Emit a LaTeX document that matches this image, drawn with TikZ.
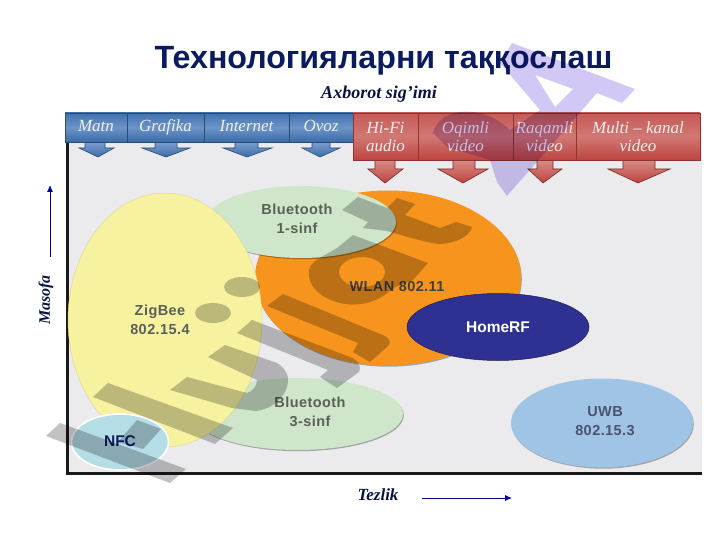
\documentclass[tikz,border=0pt]{standalone}
\usepackage{fontspec}
\setmainfont{Liberation Serif}
\setsansfont{Liberation Sans}
\newfontfamily\zonefont[LetterSpace=3]{Liberation Sans}
\usetikzlibrary{shapes.geometric,shadows,arrows.meta}
\definecolor{plotbg}{HTML}{EBEBEE}
\definecolor{titleblue}{HTML}{0B1B60}
\definecolor{bluetop}{HTML}{3F72B0}
\definecolor{bluemid}{HTML}{7C9FCE}
\definecolor{bluebot}{HTML}{3B6BA9}
\definecolor{redtop}{HTML}{C65A57}
\definecolor{redmid}{HTML}{D98B86}
\definecolor{redbot}{HTML}{BE4440}
\definecolor{zigfill}{HTML}{F8F39E}
\definecolor{btfill}{HTML}{CFE6CA}
\definecolor{wlanfill}{HTML}{F7941D}
\definecolor{homefill}{HTML}{2E3192}
\definecolor{uwbfill}{HTML}{9FC4E6}
\definecolor{nfcfill}{HTML}{B5DDE6}
\definecolor{labelgray}{HTML}{5A6058}
\definecolor{wmgray}{HTML}{C2C2C4}
\definecolor{wmpurple}{HTML}{D2C8F6}
\tikzset{
  x=1pt,y=-1pt,
  cellbase/.style={rectangle,inner sep=0pt,minimum height=#1,align=center,
    font=\fontsize{17}{18}\selectfont\itshape,text=white!88!gray},
  bluecell/.style={cellbase=29,text height=11,text depth=3,top color=bluetop,bottom color=bluebot,middle color=bluemid!75!bluetop,draw=bluebot!70!black,line width=.7pt},
  redcell/.style={cellbase=47,top color=redtop,bottom color=redbot,middle color=redmid!60!redtop,draw=redbot!75!black,line width=.7pt},
  bluearrow/.style={top color=bluemid,bottom color=bluebot,draw=bluebot!70!black,line width=.6pt},
  redarrow/.style={top color=redmid,bottom color=redbot,draw=redbot!60!black,line width=.6pt},
  zone/.style={ellipse,inner sep=0pt,align=center},
  softshadow/.style={drop shadow={shadow xshift=.8pt,shadow yshift=-1.2pt,opacity=.3,fill=black}},
  zonetext/.style={font=\zonefont\bfseries\fontsize{14.5}{19.5}\selectfont,text=labelgray},
  axislabel/.style={font=\bfseries\itshape,text=titleblue!70!black},
  axisarrow/.style={-{Latex[length=7pt,width=6pt]},draw=blue!60!black,fill=blue!70!black,line width=.9pt},
  axisline/.style={line width=3pt,draw=black!90},
  wmg/.style={fill=wmgray},
  wmp/.style={fill=wmpurple,even odd rule}
}
\begin{document}
\begin{tikzpicture}
\useasboundingbox (0,0) rectangle (720,540);
% plot background
\fill[plotbg] (67,125) rectangle (702,472);
% axes
\coordinate (origin) at (67,473);
\coordinate (ytop) at (67,112);
\coordinate (xend) at (702,473);
\draw[axisline] (ytop) -- (origin) -- (xend);
% title
\node[font=\sffamily\bfseries\fontsize{32.2}{35}\selectfont,text=titleblue] (title) at (383.5,61) {Технологияларни таққослаш};
\node[axislabel,font=\bfseries\itshape\fontsize{18}{20}\selectfont] (capacity) at (379,94) {Axborot sig'imi};
% arrows under header (blue)
\path[bluearrow] (85,142) -- (105,142) -- (105,148) -- (114,148) -- (98,157) -- (79,148) -- (85,148) -- cycle;
\path[bluearrow] (155,142) -- (177,142) -- (177,148) -- (190,148) -- (166,157) -- (142,148) -- (155,148) -- cycle;
\path[bluearrow] (235,142) -- (258,142) -- (258,148) -- (272,148) -- (247,157) -- (223,148) -- (235,148) -- cycle;
\path[bluearrow] (312,142) -- (330,142) -- (330,148) -- (340,148) -- (320,157) -- (302,148) -- (312,148) -- cycle;
% arrows under header (red)
\path[redarrow] (375,160) -- (395,160) -- (395,169) -- (403,169) -- (385,183) -- (368,169) -- (375,169) -- cycle;
\path[redarrow] (453,160) -- (475,160) -- (475,169) -- (488,169) -- (463,183) -- (438,169) -- (453,169) -- cycle;
\path[redarrow] (537,160) -- (553,160) -- (553,169) -- (562,169) -- (543,183) -- (528,169) -- (537,169) -- cycle;
\path[redarrow] (623,160) -- (655,160) -- (655,169) -- (670,169) -- (638,183) -- (608,169) -- (623,169) -- cycle;
% header cells
\node[bluecell,minimum width=62] (matn) at (96,127.5) {Matn};
\node[bluecell,minimum width=77] (grafika) at (165.5,127.5) {Grafika};
\node[bluecell,minimum width=85] (internet) at (246.5,127.5) {Internet};
\node[bluecell,minimum width=64] (ovoz) at (321,127.5) {Ovoz};
\node[redcell,minimum width=65] (hifi) at (385.5,136.5) {Hi-Fi\\audio};
\node[redcell,minimum width=95] (oqimli) at (465.5,136.5) {Oqimli\\video};
\node[redcell,minimum width=63] (raqamli) at (544.5,136.5) {Raqamli\\video};
\node[redcell,minimum width=124] (multi) at (638,136.5) {Multi – kanal\\video};
% zones
\node[zone,fill=wlanfill,softshadow,minimum width=266,minimum height=175] (wlan) at (388,278) {};
\node[zone,fill=btfill,softshadow,minimum width=190,minimum height=72] (bta) at (301,222) {};
\node[zone,fill=btfill,softshadow,minimum width=210,minimum height=72] (btc) at (298,414) {};
\node[zone,fill=zigfill,fill opacity=.97,draw=gray!25!zigfill,line width=.4pt,minimum width=194,minimum height=254] (zig) at (165,320) {};
\node[zone,fill=homefill,draw=homefill!60!black,line width=.5pt,minimum width=182,minimum height=67] (home) at (498,327) {};
\node[zone,fill=uwbfill,softshadow,minimum width=182,minimum height=89] (uwb) at (602,423) {};
\node[zone,fill=nfcfill,draw=white,line width=1.6pt,minimum width=97,minimum height=56] (nfc) at (120,442) {};
% zone labels
\node[zonetext,align=center] (btatext) at (297,219) {Bluetooth\\1-sinf};
\node[zonetext,align=center] (zigtext) at (160,320) {ZigBee\\802.15.4};
\node[zonetext,text=black!75] (wlantext) at (397,287) {WLAN 802.11};
\node[zonetext,align=center] (btctext) at (310,412) {Bluetooth\\3-sinf};
\node[zonetext,align=center,text=labelgray!85!blue] (uwbtext) at (605,421) {UWB\\802.15.3};
\node[font=\sffamily\bfseries\fontsize{15.5}{17}\selectfont,text=white] (hometext) at (498,327) {HomeRF};
\node[font=\sffamily\bfseries\fontsize{15.5}{17}\selectfont,text=titleblue] (nfctext) at (120,441) {NFC};
% axis labels
\node[axislabel,font=\bfseries\itshape\fontsize{16}{18}\selectfont,rotate=90] (masofa) at (46,300) {Masofa};
\node[axislabel,font=\bfseries\itshape\fontsize{17}{19}\selectfont] (tezlik) at (378,495) {Tezlik};
\coordinate (ya) at (50,257);
\coordinate (yb) at (50,185);
\coordinate (xa) at (422,498);
\coordinate (xb) at (512,498);
\draw[axisarrow] (ya) -- (yb);
\draw[axisarrow] (xa) -- (xb);
% watermark
\begin{scope}[blend mode=multiply]
% H
\fill[wmg] (46,436) -- (60,423) -- (186,469) -- (170,483) -- cycle;
\fill[wmg] (108,383) -- (233,428) -- (215,444) -- (93,397) -- cycle;
\fill[wmg] (137,420) -- (161,429) -- (143,449) -- (118,442) -- cycle;
% u
\fill[wmg] (170,390) -- (187,377) -- (247,393) .. controls (252,392) and (257,386) .. (257,380) -- (208,357) -- (225,345) -- (277,363) .. controls (285,368) and (289,375) .. (288,382) .. controls (286,398) and (272,409) .. (256,411) -- (232,408) -- cycle;
% j j
\fill[wmg] (213,313) ellipse [x radius=18,y radius=10];
\fill[wmg] (242,287) ellipse [x radius=18,y radius=10];
\fill[wmg] (252,320) -- (350,357) .. controls (358,360) and (362,366) .. (359,372) -- (337,388) -- (320,377) -- (328,370) -- (237,333) -- cycle;
\fill[wmg] (283,294) -- (385,336) .. controls (390,339) and (391,343) .. (388,346) -- (370,362) -- (353,352) -- (358,343) -- (267,306) -- cycle;
% a
\fill[wmg,even odd rule] (353,235) -- (428,263) -- (413,280) -- (393,288) .. controls (378,303) and (360,306) .. (345,304) .. controls (322,300) and (307,287) .. (309,270) .. controls (311,260) and (325,256) .. (337,248) -- cycle
  (362,272) ellipse [x radius=23,y radius=15];
% t
\fill[wmg] (342,210) -- (358,197) -- (387,208) -- (397,198) -- (415,204) -- (405,215) -- (440,228) -- (456,222) -- (472,227) .. controls (470,236) and (456,243) .. (441,244) .. controls (430,244) and (405,236) .. (387,231) -- (363,228) -- (368,222) -- cycle;
% purple
\fill[wmp] (512,43) -- (635,89) -- (622,103) -- (597,93) -- (507,196) -- (497,182) -- (490,160) -- (447,147) -- (433,133) .. controls (440,105) and (485,105) .. (510,130) -- (540,110) -- (500,63) -- cycle
  (535,75) -- (573,89) -- (555,107) -- cycle;
\end{scope}
\end{tikzpicture}
\end{document}
